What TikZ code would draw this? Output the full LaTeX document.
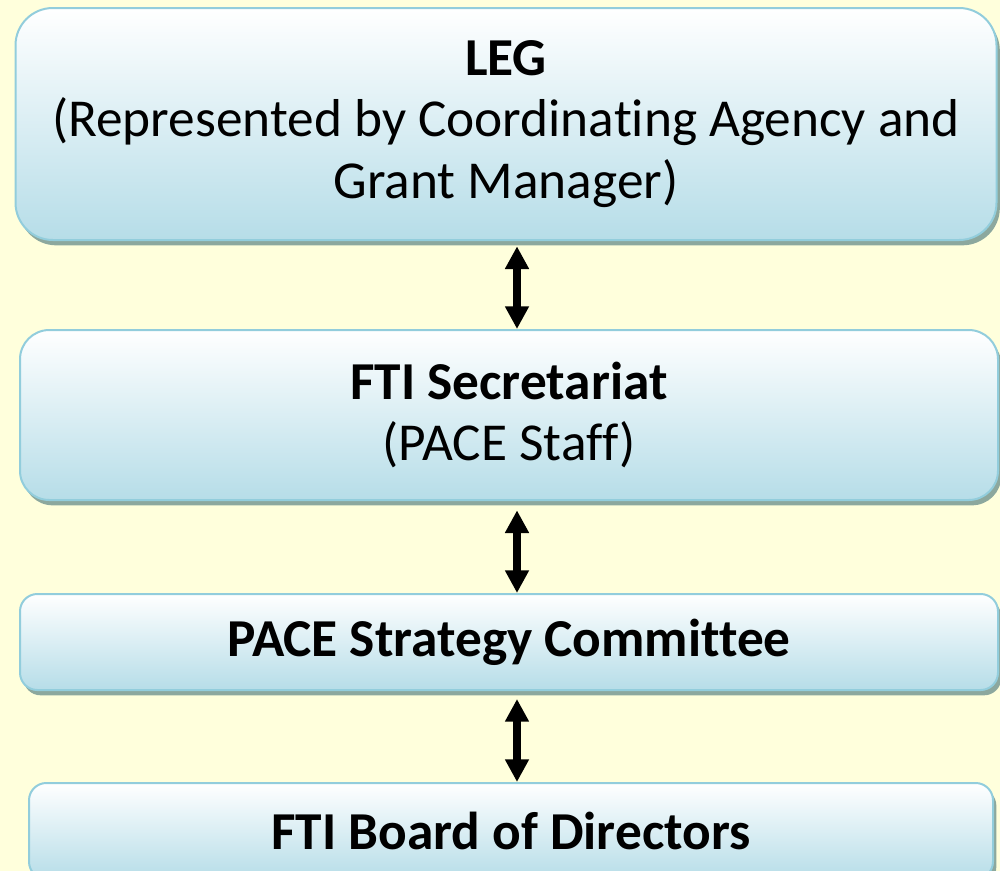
\documentclass[tikz,border=0pt]{standalone}
\usepackage{fontspec}
\setmainfont{Carlito}[Ligatures=NoCommon]
\usetikzlibrary{arrows.meta,shadows}
\definecolor{bgyellow}{HTML}{FFFFDC}
\definecolor{boxline}{HTML}{92CDDC}
\definecolor{boxblue}{HTML}{B6DDE8}
\definecolor{boxshadow}{HTML}{8CA89E}
\tikzset{
  box/.style={rectangle, rounded corners=#1, draw=boxline, line width=1.5pt,
    top color=white, bottom color=boxblue, align=center, inner sep=0pt,
    drop shadow={shadow xshift=2.5pt, shadow yshift=-4pt, fill=boxshadow, opacity=1},
    font=\fontsize{40}{46}\selectfont},
  link/.style={{Triangle[width=17pt,length=17pt]}-{Triangle[width=17pt,length=17pt]},
    line width=6pt, black}
}
\begin{document}
\begin{tikzpicture}[x=0.75pt,y=-0.75pt]
\fill[bgyellow] (0,0) rectangle (1000,871);
\useasboundingbox (0,0) rectangle (1000,871);
\node[box=28pt, minimum width=735.75pt, minimum height=174pt] (leg) at (506,124)
  {\textbf{LEG}\\(Represented by Coordinating Agency and\\Grant Manager)};
\node[box=22pt, minimum width=733.5pt, minimum height=127.5pt] (secr) at (509,415)
  {\textbf{FTI Secretariat}\\(PACE Staff)};
\node[box=13pt, minimum width=733.5pt, minimum height=72pt] (strat) at (509,642)
  {\textbf{PACE Strategy Committee}};
\node[box=13pt, minimum width=723pt, minimum height=72pt] (board) at (511,831)
  {\textbf{FTI Board of Directors}};
\coordinate (ax) at (517,0);
\draw[link, shorten <=4pt] (leg.south -| ax) -- (secr.north -| ax);
\draw[link, shorten <=7pt] (secr.south -| ax) -- (strat.north -| ax);
\draw[link, shorten <=6pt] (strat.south -| ax) -- (board.north -| ax);
\end{tikzpicture}
\end{document}
